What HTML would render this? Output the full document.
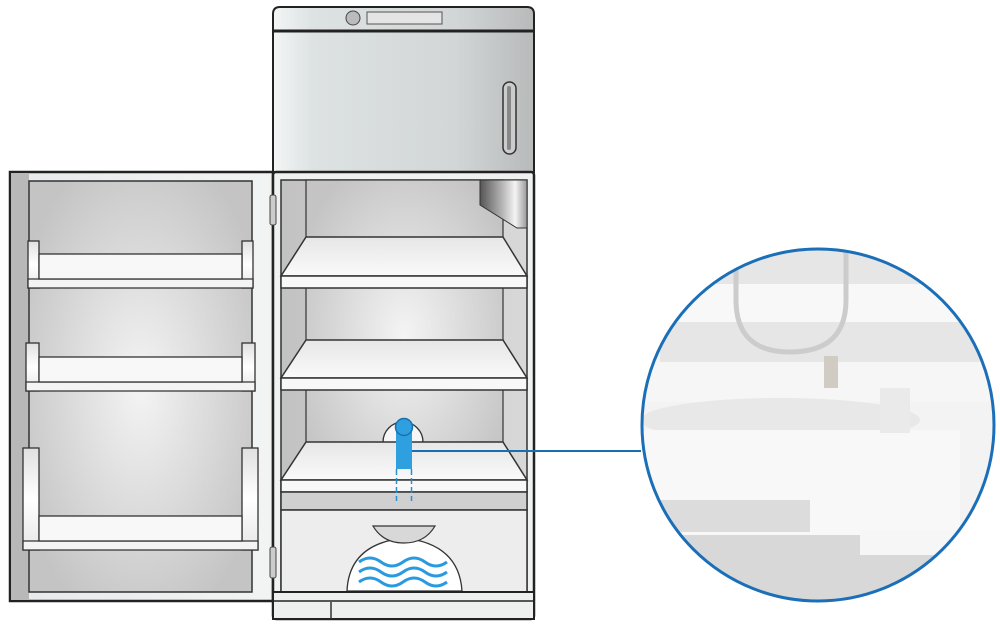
<!DOCTYPE html>
<html><head><style>body{margin:0;background:#fff}svg{display:block}</style></head><body>
<svg width="1000" height="627" viewBox="0 0 1000 627" xmlns="http://www.w3.org/2000/svg">
<defs>
<linearGradient id="steel" x1="0" x2="1" y1="0" y2="0"><stop offset="0" stop-color="#f4f6f6"/><stop offset="0.15" stop-color="#dde2e2"/><stop offset="0.7" stop-color="#d2d6d6"/><stop offset="1" stop-color="#b8baba"/></linearGradient>
<linearGradient id="door" x1="0" x2="1"><stop offset="0" stop-color="#e6eaea"/><stop offset="1" stop-color="#f2f4f4"/></linearGradient>
<radialGradient id="wall" cx="0.5" cy="0.5" r="0.6"><stop offset="0" stop-color="#f4f4f4"/><stop offset="1" stop-color="#c4c4c4"/></radialGradient>
<linearGradient id="shelf" x1="0" x2="0" y1="0" y2="1"><stop offset="0" stop-color="#e6e6e6"/><stop offset="1" stop-color="#fafafa"/></linearGradient>
<linearGradient id="side" x1="0" x2="1"><stop offset="0" stop-color="#c2c2c2"/><stop offset="1" stop-color="#d8d8d8"/></linearGradient>
<linearGradient id="post" x1="0" x2="0" y1="0" y2="1"><stop offset="0" stop-color="#e0e0e0"/><stop offset="0.5" stop-color="#ffffff"/><stop offset="1" stop-color="#e6e6e6"/></linearGradient>
<linearGradient id="corner" x1="0" x2="1"><stop offset="0" stop-color="#555"/><stop offset="0.5" stop-color="#bbb"/><stop offset="0.75" stop-color="#f4f4f4"/><stop offset="1" stop-color="#999"/></linearGradient>
<clipPath id="circ"><circle cx="818" cy="425" r="176"/></clipPath>
</defs>

<!-- Door -->
<rect x="10" y="172" width="263" height="429" fill="url(#door)" stroke="#222" stroke-width="2.5"/>
<rect x="11" y="173" width="18" height="427" fill="#b8b8b8"/>
<rect x="29" y="181" width="223" height="411" fill="url(#wall)" stroke="#333" stroke-width="1.5"/>
<g stroke="#333" stroke-width="1.3">
<rect x="28" y="241" width="11" height="47" fill="url(#post)"/>
<rect x="242" y="241" width="11" height="47" fill="url(#post)"/>
<path d="M28,279 H253 V288 H28 Z" fill="#f4f4f4"/>
<rect x="39" y="254" width="203" height="25" fill="#f8f8f8"/>
<rect x="26" y="343" width="13" height="48" fill="url(#post)"/>
<rect x="242" y="343" width="13" height="48" fill="url(#post)"/>
<path d="M26,382 H255 V391 H26 Z" fill="#f4f4f4"/>
<rect x="39" y="357" width="203" height="25" fill="#f8f8f8"/>
<rect x="23" y="448" width="16" height="102" fill="url(#post)"/>
<rect x="242" y="448" width="16" height="102" fill="url(#post)"/>
<path d="M23,541 H258 V550 H23 Z" fill="#f4f4f4"/>
<rect x="39" y="516" width="203" height="25" fill="#f8f8f8"/>
</g>

<!-- Freezer -->
<path d="M273,172 V14 Q273,7 280,7 H527 Q534,7 534,14 V172 Z" fill="url(#steel)" stroke="#222" stroke-width="2"/>
<line x1="273" y1="31" x2="534" y2="31" stroke="#222" stroke-width="3"/>
<circle cx="353" cy="18" r="7" fill="#bbb" stroke="#444"/>
<rect x="367" y="12" width="75" height="12" fill="#e4e4e4" stroke="#555"/>
<rect x="503" y="82" width="13" height="72" rx="6.5" fill="#ccc" stroke="#333" stroke-width="1.5"/>
<rect x="507" y="86" width="4" height="64" rx="2" fill="#888"/>

<!-- Fridge body -->
<rect x="273" y="172" width="261" height="447" rx="3" fill="#f0f2f2" stroke="#222" stroke-width="2.5"/>
<rect x="281" y="180" width="246" height="412" fill="url(#side)" stroke="#333" stroke-width="1.5"/>
<rect x="306" y="180" width="197" height="312" fill="url(#wall)" stroke="#333" stroke-width="1.2"/>
<path d="M480,180 H527 V228 H517 L480,205 Z" fill="url(#corner)" stroke="#333"/>
<g stroke="#333" stroke-width="1.5">
<path d="M306,237 H503 L527,276 H281 Z" fill="url(#shelf)"/>
<rect x="281" y="276" width="246" height="12" fill="#f8f8f8"/>
<path d="M306,340 H503 L527,378 H281 Z" fill="url(#shelf)"/>
<rect x="281" y="378" width="246" height="12" fill="#f8f8f8"/>
<path d="M383,442 A20,20 0 0 1 423,442" fill="#f6f6f6" stroke="#333" stroke-width="1.3"/>
<path d="M306,442 H503 L527,480 H281 Z" fill="url(#shelf)"/>
<rect x="281" y="480" width="246" height="12" fill="#f8f8f8"/>
<rect x="281" y="492" width="246" height="18" fill="#d0d0d0"/>
<rect x="281" y="510" width="246" height="82" fill="#ededed"/>
</g>
<rect x="270" y="195" width="6" height="30" rx="2" fill="#ccc" stroke="#444"/>
<rect x="270" y="547" width="6" height="31" rx="2" fill="#ccc" stroke="#444"/>
<!-- sensor -->
<rect x="396" y="427" width="16" height="42" fill="#2fa0df"/>
<circle cx="404" cy="427" r="8.5" fill="#2fa0df" stroke="#1a6fb0" stroke-width="1.5"/>
<g stroke="#2a8fd0" stroke-width="1.5" stroke-dasharray="6,3">
<line x1="396.5" y1="469" x2="396.5" y2="501"/><line x1="411.5" y1="469" x2="411.5" y2="501"/>
</g>
<line x1="412" y1="451" x2="641" y2="451" stroke="#1a6fb0" stroke-width="2"/>
<!-- bowl -->
<path d="M347,591 Q349,544 404,538 Q459,544 462,591 Z" fill="#fff" stroke="#333" stroke-width="1.3"/>
<path d="M373,526 H435 Q425,543 404,543 Q383,543 373,526 Z" fill="#d8d8d8" stroke="#333" stroke-width="1.2"/>
<g fill="none" stroke="#2a9ae0" stroke-width="3">
<path d="M359,562 q11,-8 22,0 t22,0 t22,0 t22,0"/>
<path d="M359,572 q11,-8 22,0 t22,0 t22,0 t22,0"/>
<path d="M359,582 q11,-8 22,0 t22,0 t22,0 t22,0"/>
</g>
<rect x="273" y="592" width="261" height="27" fill="#eef0f0" stroke="#222" stroke-width="2"/>
<line x1="331" y1="602" x2="331" y2="619" stroke="#333" stroke-width="1.5"/>
<line x1="273" y1="601" x2="534" y2="601" stroke="#222" stroke-width="1.5"/>

<!-- Photo circle -->
<g clip-path="url(#circ)">
<rect x="640" y="248" width="360" height="360" fill="#f3f3f3"/>
<rect x="640" y="248" width="360" height="36" fill="#e6e6e6"/>
<rect x="640" y="284" width="360" height="40" fill="#f8f8f8"/>
<rect x="660" y="322" width="340" height="40" fill="#e6e6e6"/>
<rect x="640" y="362" width="360" height="40" fill="#f6f6f6"/>
<path d="M736,250 V300 Q736,352 790,352 Q846,352 846,300 V250" fill="none" stroke="#cccccc" stroke-width="5"/>
<rect x="824" y="356" width="14" height="32" fill="#d0ccc4"/>
<ellipse cx="780" cy="420" rx="140" ry="22" fill="#e8e8e8"/>
<path d="M640,430 H960 V540 Q960,555 940,555 H640 Z" fill="#f8f8f8"/>
<rect x="880" y="388" width="30" height="45" fill="#eaeaea"/>
<rect x="660" y="500" width="150" height="32" fill="#dcdcdc"/>
<rect x="640" y="535" width="360" height="80" fill="#d8d8d8"/>
<path d="M860,530 H960 V555 H860 Z" fill="#f6f6f6"/>
</g>
<circle cx="818" cy="425" r="176" fill="none" stroke="#1a6fb8" stroke-width="3"/>
</svg>
</body></html>
